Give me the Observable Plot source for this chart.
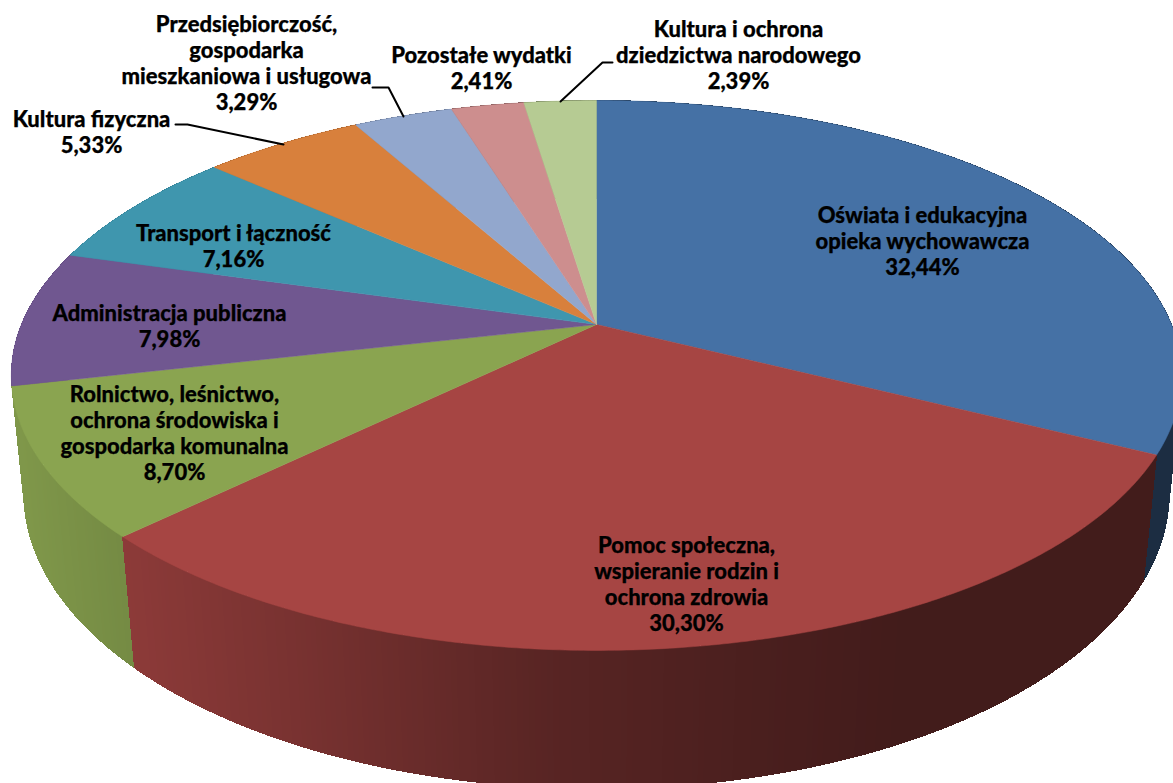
<!DOCTYPE html>
<html><head><meta charset="utf-8">
<style>html,body{margin:0;padding:0;background:#fff;overflow:hidden}svg{display:block}</style>
<script src="https://cdn.jsdelivr.net/npm/d3@7"></script>
<script src="https://cdn.jsdelivr.net/npm/@observablehq/plot@0.6"></script>
</head><body>
<div id="chart"></div>
<script>
// Data
const categories = [
  "Oświata i edukacyjna\nopieka wychowawcza",
  "Pomoc społeczna,\nwspieranie rodzin i\nochrona zdrowia",
  "Rolnictwo, leśnictwo,\nochrona środowiska i\ngospodarka komunalna",
  "Administracja publiczna",
  "Transport i łączność",
  "Kultura fizyczna",
  "Przedsiębiorczość,\ngospodarka\nmieszkaniowa i usługowa",
  "Pozostałe wydatki",
  "Kultura i ochrona\ndziedzictwa narodowego"
];
const shares = [32.44, 30.30, 8.70, 7.98, 7.16, 5.33, 3.29, 2.41, 2.39];
const shareLabels = ["32,44%","30,30%","8,70%","7,98%","7,16%","5,33%","3,29%","2,41%","2,39%"];
const colors = ["#4571A5","#A64543","#8AA450","#705790","#3F96AE","#D8803C","#92A7CD","#CD8E8E","#B6CB93"];

// Placement of the labels and of the leader lines
const labelX = [922, 686, 174, 169, 233, 91, 246, 481, 738];
const labelY = [240, 583, 432, 325, 245, 131, 62, 67, 54];
const leaderLines = [
  [[175,124],[187,124],[283,144]],
  [[372,87],[388,87],[403,116]],
  [[612,62],[602,62],[560,101]]
];

// Perspective of the pie: unit circle -> screen
const top3d = {cx:596, cy:324, a:575, b:265.5, k:0.1854};
const bot3d = {cx:596, cy:440, a:563.4, b:285.8, k:0.179};
const project = (p, t) => {
  const u = Math.sin(t), v = -Math.cos(t), d = 1 - p.k * v;
  return {x: p.cx + p.a * u / d, y: p.cy + p.b * v / d};
};
const shade = d3.scaleLinear()
  .domain([20, 130, 300, 550, 750, 900, 1173])
  .range([.92, .84, .72, .53, .45, .40, .40]).clamp(true);

const step = Math.PI / 360;
const toAngle = (s) => s / 100 * 2 * Math.PI;
let cum = 0;
const slices = shares.map((s, i) => {
  const o = {i, t0: toAngle(cum), t1: toAngle(cum + s)};
  cum += s;
  return o;
});

const wallStrips = [];
slices.forEach(({i, t0, t1}) => {
  const n = Math.max(1, Math.ceil((t1 - t0) / step));
  for (let j = 0; j < n; j++) {
    const a = t0 + (t1 - t0) * j / n, b = t0 + (t1 - t0) * (j + 1) / n;
    const xm = project(top3d, (a + b) / 2).x;
    const c = d3.rgb(colors[i]), f = shade(xm);
    const col = d3.rgb(c.r * f, c.g * f, c.b * f).formatHex();
    wallStrips.push({depth: -Math.cos((a + b) / 2), col, corners: [
      project(top3d, a), project(top3d, b), project(bot3d, b), project(bot3d, a), project(top3d, a)
    ]});
  }
});
wallStrips.sort((p, q) => p.depth - q.depth);
const wallPts = wallStrips.flatMap((s, id) => s.corners.map(c => ({...c, id, col: s.col})));

const topPts = slices.flatMap(({i, t0, t1}) => {
  const n = Math.max(2, Math.ceil((t1 - t0) / step));
  const pts = [{x: top3d.cx, y: top3d.cy}];
  for (let j = 0; j <= n; j++) pts.push(project(top3d, t0 + (t1 - t0) * j / n));
  pts.push({x: top3d.cx, y: top3d.cy});
  return pts.map(p => ({...p, id: i, col: colors[i]}));
});

const labels = categories.map((c, i) => ({
  text: c + "\n" + shareLabels[i], x: labelX[i], y: labelY[i]
}));
const leaders = leaderLines.flatMap((l, id) => l.map(([x, y]) => ({x, y, id})));

const chart = Plot.plot({
  width: 1173, height: 783,
  margin: 0,
  x: {domain: [0, 1173], range: [0, 1173], axis: null},
  y: {domain: [0, 783], range: [0, 783], axis: null},
  color: {type: "identity"},
  style: {background: "#fff"},
  marks: [
    Plot.line(wallPts, {x: "x", y: "y", z: "id", fill: "col", stroke: "col", strokeWidth: 1, shapeRendering: "crispEdges"}),
    Plot.line(topPts, {x: "x", y: "y", z: "id", fill: "col", stroke: "col", strokeWidth: 0.5}),
    Plot.line(leaders, {x: "x", y: "y", z: "id", stroke: "#000", strokeWidth: 2, curve: "linear"}),
    Plot.text(labels, {
      x: "x", y: "y", text: "text", textAnchor: "middle", lineAnchor: "middle",
      lineHeight: 1.19, fontSize: 22, fontWeight: 900, fontFamily: "Lato", fill: "#000",
      stroke: "#000", strokeWidth: 0.25
    })
  ]
});
document.getElementById("chart").append(chart);
</script>
</body></html>
